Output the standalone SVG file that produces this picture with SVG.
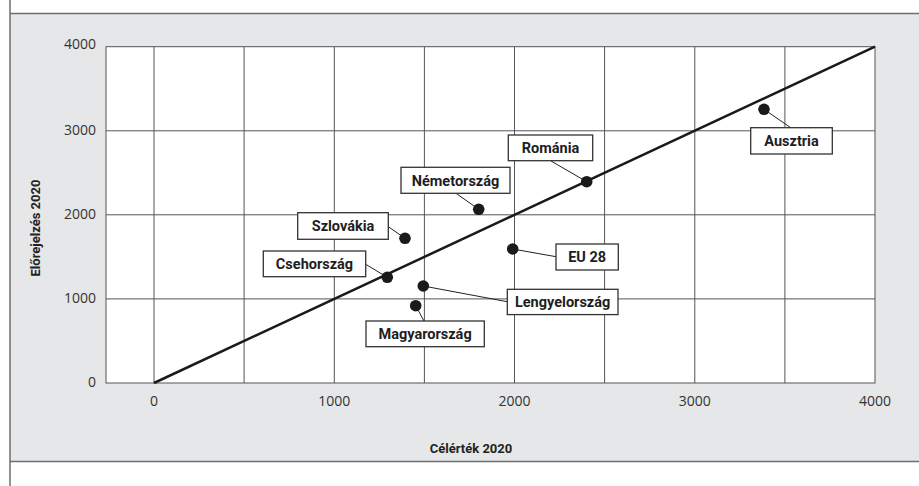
<svg xmlns="http://www.w3.org/2000/svg" width="919" height="486" viewBox="0 0 919 486">
<style>
.frame{stroke:#6d6e70;stroke-width:1.5;fill:none}
.grid{stroke:#555;stroke-width:1;fill:none}
.tick{font-family:"Open Sans","Liberation Sans",sans-serif;font-size:14px;fill:#333}
.axt{font-family:Roboto,"Liberation Sans",sans-serif;font-size:13px;font-weight:700;fill:#222}
.box{fill:#fff;stroke:#333;stroke-width:1.3}
.lbl{font-family:Roboto,"Liberation Sans",sans-serif;font-size:14.5px;font-weight:700;fill:#1e1e1e;text-anchor:middle}
.dot{fill:#1a1a1a}
.conn{stroke:#222;stroke-width:1;fill:none}
</style>
<rect x="0" y="0" width="919" height="486" fill="#fff"/>
<rect x="10" y="13.5" width="909" height="448" fill="#e6e7e8"/>
<line class="frame" x1="10" y1="13.5" x2="919" y2="13.5"/>
<line class="frame" x1="10" y1="461.5" x2="919" y2="461.5"/>
<line class="frame" x1="10" y1="0" x2="10" y2="486"/>

<g id="plot">
<rect x="106" y="46.7" width="769" height="336.3" fill="#fff" stroke="#555" stroke-width="1"/>
<g class="grid">
<line x1="154" y1="46.7" x2="154" y2="383"/>
<line x1="244.1" y1="46.7" x2="244.1" y2="383"/>
<line x1="334.3" y1="46.7" x2="334.3" y2="383"/>
<line x1="424.4" y1="46.7" x2="424.4" y2="383"/>
<line x1="514.5" y1="46.7" x2="514.5" y2="383"/>
<line x1="604.6" y1="46.7" x2="604.6" y2="383"/>
<line x1="694.8" y1="46.7" x2="694.8" y2="383"/>
<line x1="784.9" y1="46.7" x2="784.9" y2="383"/>
<line x1="106" y1="130.8" x2="875" y2="130.8"/>
<line x1="106" y1="214.8" x2="875" y2="214.8"/>
<line x1="106" y1="298.9" x2="875" y2="298.9"/>
</g>
<line x1="154" y1="383" x2="875" y2="46.7" stroke="#1a1a1a" stroke-width="2.5"/>
</g>

<g id="y-axis">
<text class="tick" x="96" y="49" text-anchor="end">4000</text>
<text class="tick" x="96" y="135" text-anchor="end">3000</text>
<text class="tick" x="96" y="219" text-anchor="end">2000</text>
<text class="tick" x="96" y="303" text-anchor="end">1000</text>
<text class="tick" x="96" y="387" text-anchor="end">0</text>
<text class="axt" transform="translate(39.5,228) rotate(-90)" text-anchor="middle">Előrejelzés 2020</text>
</g>
<g id="x-axis">
<text class="tick" x="154" y="406" text-anchor="middle">0</text>
<text class="tick" x="334.3" y="406" text-anchor="middle">1000</text>
<text class="tick" x="514.5" y="406" text-anchor="middle">2000</text>
<text class="tick" x="694.8" y="406" text-anchor="middle">3000</text>
<text class="tick" x="875" y="406" text-anchor="middle">4000</text>
<text class="axt" x="471" y="452.5" text-anchor="middle">Célérték 2020</text>
</g>

<g id="connectors">
<line class="conn" x1="551" y1="161" x2="586.7" y2="181.7"/>
<line class="conn" x1="790.7" y1="127.7" x2="764" y2="109.3"/>
<line class="conn" x1="556" y1="256.7" x2="512.7" y2="249"/>
<line class="conn" x1="456" y1="193.3" x2="478.7" y2="209.3"/>
<line class="conn" x1="388.3" y1="226.7" x2="405" y2="238.3"/>
<line class="conn" x1="365.7" y1="264.3" x2="387.3" y2="277.3"/>
<line class="conn" x1="507.3" y1="301.7" x2="423.3" y2="286"/>
<line class="conn" x1="424" y1="321" x2="415.7" y2="305.7"/>
</g>

<g id="romania">
<circle class="dot" cx="586.7" cy="181.7" r="5.8"/>
<rect class="box" x="508.3" y="135" width="84.4" height="25.7"/>
<text class="lbl" x="550.5" y="153.2">Románia</text>
</g>
<g id="ausztria">
<circle class="dot" cx="764" cy="109.3" r="5.8"/>
<rect class="box" x="750.7" y="127.7" width="81.6" height="26.3"/>
<text class="lbl" x="791.5" y="146.2">Ausztria</text>
</g>
<g id="eu28">
<circle class="dot" cx="512.7" cy="249" r="5.8"/>
<rect class="box" x="556" y="244" width="62.3" height="26"/>
<text class="lbl" x="587.2" y="262.2">EU 28</text>
</g>
<g id="nemetorszag">
<circle class="dot" cx="478.7" cy="209.3" r="5.8"/>
<rect class="box" x="401" y="167.3" width="109" height="26"/>
<text class="lbl" x="455.5" y="185.7">Németország</text>
</g>
<g id="szlovakia">
<circle class="dot" cx="405" cy="238.3" r="5.8"/>
<rect class="box" x="297.7" y="212.7" width="90.6" height="26.6"/>
<text class="lbl" x="343" y="231.2">Szlovákia</text>
</g>
<g id="csehorszag">
<circle class="dot" cx="387.3" cy="277.3" r="5.8"/>
<rect class="box" x="263.3" y="251" width="102.4" height="25.7"/>
<text class="lbl" x="314.5" y="269.2">Csehország</text>
</g>
<g id="lengyelorszag">
<circle class="dot" cx="423.3" cy="286" r="5.8"/>
<rect class="box" x="507.3" y="289.3" width="110.7" height="25.3"/>
<text class="lbl" x="562.6" y="307.2">Lengyelország</text>
</g>
<g id="magyarorszag">
<circle class="dot" cx="415.7" cy="305.7" r="5.8"/>
<rect class="box" x="366" y="321" width="118.3" height="25.7"/>
<text class="lbl" x="425.1" y="339.2">Magyarország</text>
</g>
</svg>
